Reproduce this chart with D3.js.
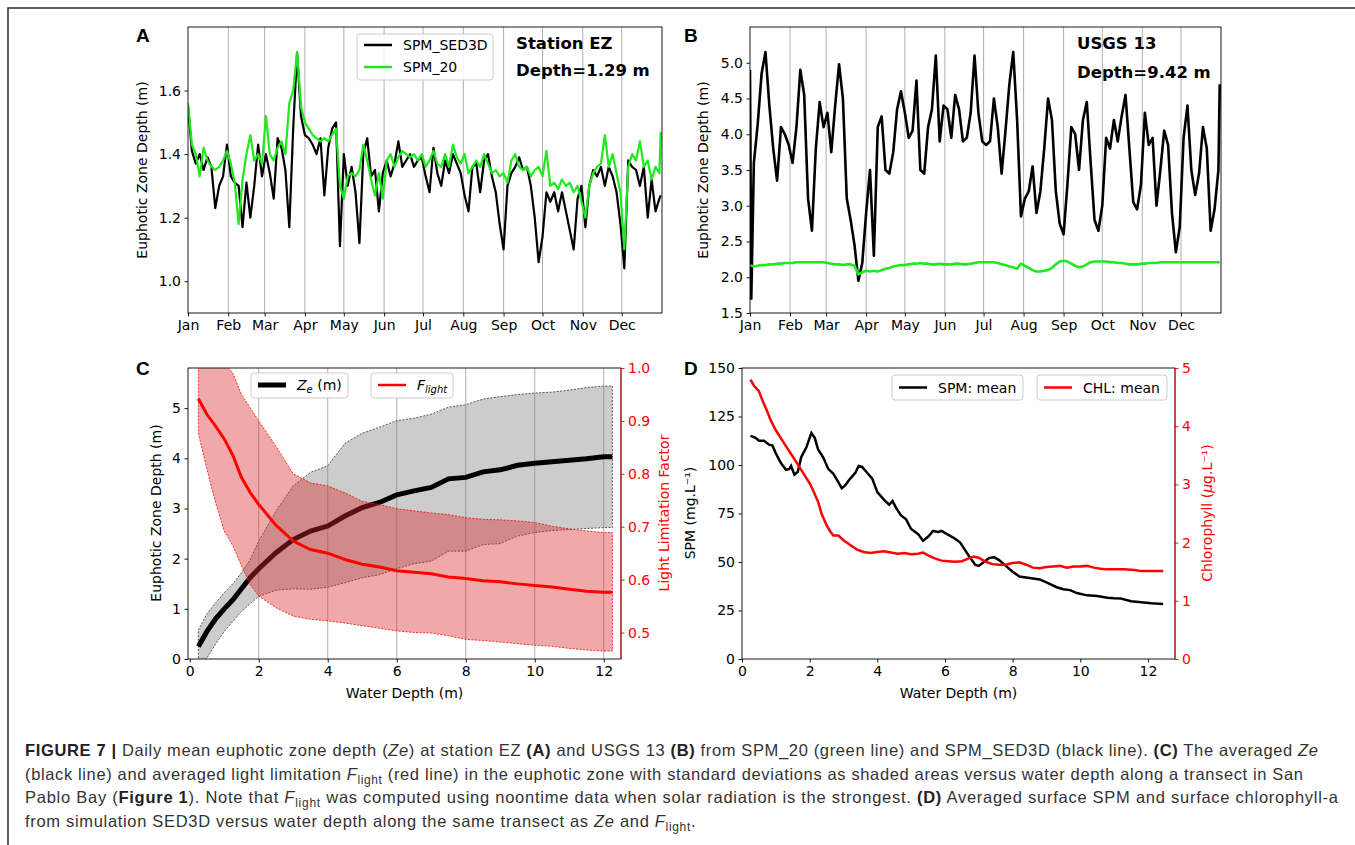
<!DOCTYPE html>
<html>
<head>
<meta charset="utf-8">
<script src="https://cdn.jsdelivr.net/npm/d3@7"></script>
<style>
  body { margin: 0; background: #fff; }
</style>
</head>
<body>
<div id="container"></div>
<script>
// month ticks used by panels A and B (day of year at the start of each month)
var months = ["Jan", "Feb", "Mar", "Apr", "May", "Jun", "Jul", "Aug", "Sep", "Oct", "Nov", "Dec"];
var monthDay = [0, 31, 59, 90, 120, 151, 181, 212, 243, 273, 304, 334];

// Panel A - station EZ, read every third day
var dayEZ = d3.range(0, 365, 3).concat([364]);
var ezSED3D = [
  1.55, 1.41, 1.37, 1.40, 1.35, 1.39, 1.36, 1.23, 1.30, 1.33, 1.43,
  1.33, 1.31, 1.30, 1.17, 1.31, 1.20, 1.30, 1.43, 1.33,
  1.40, 1.34, 1.26, 1.45, 1.42, 1.35, 1.17, 1.48, 1.72, 1.52,
  1.46, 1.45, 1.43, 1.40, 1.45, 1.27, 1.42, 1.48, 1.50, 1.11,
  1.40, 1.30, 1.36, 1.28, 1.12, 1.40, 1.45, 1.33, 1.35, 1.22, 1.34,
  1.38, 1.33, 1.37, 1.44, 1.36, 1.38, 1.40, 1.36, 1.38, 1.39,
  1.33, 1.28, 1.42, 1.34, 1.30, 1.38, 1.34, 1.40, 1.37, 1.34,
  1.27, 1.22, 1.36, 1.37, 1.28, 1.38, 1.40, 1.33, 1.28, 1.18,
  1.10, 1.30, 1.34, 1.36, 1.39, 1.35, 1.36, 1.30, 1.20, 1.06,
  1.14, 1.28, 1.25, 1.28, 1.22, 1.28, 1.22, 1.16, 1.10, 1.26, 1.30,
  1.17, 1.30, 1.35, 1.33, 1.36, 1.30, 1.36, 1.33, 1.28, 1.18,
  1.04, 1.38, 1.36, 1.35, 1.30, 1.36, 1.20, 1.32, 1.22, 1.26,
  1.27];
var ezSPM20 = [
  1.56, 1.43, 1.40, 1.33, 1.42, 1.38, 1.36, 1.35, 1.36, 1.38, 1.41,
  1.37, 1.31, 1.18, 1.32, 1.40, 1.46, 1.38, 1.40, 1.37,
  1.52, 1.40, 1.38, 1.42, 1.44, 1.40, 1.56, 1.60, 1.72, 1.55,
  1.50, 1.48, 1.46, 1.45, 1.44, 1.45, 1.44, 1.46, 1.48, 1.30,
  1.26, 1.33, 1.34, 1.33, 1.35, 1.43, 1.38, 1.32, 1.27, 1.34, 1.26,
  1.38, 1.40, 1.36, 1.39, 1.41, 1.40, 1.39, 1.40, 1.38, 1.40,
  1.36, 1.38, 1.41, 1.37, 1.36, 1.40, 1.36, 1.43, 1.39, 1.37,
  1.40, 1.34, 1.36, 1.38, 1.36, 1.40, 1.37, 1.34, 1.35, 1.33,
  1.34, 1.31, 1.38, 1.40, 1.36, 1.35, 1.36, 1.33, 1.35, 1.36,
  1.33, 1.41, 1.30, 1.31, 1.29, 1.32, 1.30, 1.31, 1.28, 1.30, 1.25,
  1.20, 1.30, 1.34, 1.36, 1.37, 1.46, 1.36, 1.40, 1.34, 1.28,
  1.10, 1.36, 1.40, 1.38, 1.44, 1.36, 1.38, 1.32, 1.36, 1.34,
  1.47];

// Panel B - USGS 13
var dayUSGS = [0, 1].concat(d3.range(3, 365, 3), [364]);
var usgsSED3D = [
  4.90, 1.70, 3.60, 4.15, 4.85, 5.15, 4.40, 3.80, 3.35, 4.10, 4.00, 3.85,
  3.60, 4.10, 4.90, 4.55, 3.10, 2.65, 3.80, 4.45, 4.10,
  4.30, 3.75, 4.40, 4.98, 4.50, 3.10, 2.80, 2.45, 1.95, 2.20,
  2.90, 3.50, 2.30, 4.10, 4.25, 3.50, 3.45, 3.75, 4.35, 4.60,
  4.30, 3.95, 4.05, 4.75, 3.50, 3.45, 4.10, 4.35, 5.10, 3.90, 4.40,
  4.35, 3.95, 4.55, 4.35, 3.90, 3.95, 4.30, 5.10, 4.30, 3.90,
  3.85, 3.90, 4.50, 4.10, 3.45, 4.05, 4.70, 5.15, 4.20, 2.85,
  3.10, 3.20, 3.55, 2.90, 3.20, 3.80, 4.50, 4.20, 3.20, 2.75,
  2.60, 3.30, 4.10, 4.00, 3.50, 4.20, 4.45, 3.60, 2.80, 2.65,
  3.00, 3.95, 3.80, 4.20, 3.90, 4.25, 4.55, 3.80, 3.05, 2.95, 3.30,
  4.30, 3.85, 3.95, 3.00, 3.50, 4.05, 3.85, 2.90, 2.35, 2.70,
  3.95, 4.40, 3.50, 3.15, 3.45, 4.10, 3.80, 2.65, 2.95, 3.50,
  4.70];
var usgsSPM20 = [
  2.17, 2.16, 2.15, 2.16, 2.17, 2.17, 2.18, 2.18, 2.19, 2.19, 2.20, 2.20,
  2.20, 2.21, 2.21, 2.21, 2.21, 2.21, 2.21, 2.21, 2.21,
  2.20, 2.19, 2.18, 2.18, 2.17, 2.18, 2.18, 2.16, 2.04, 2.07,
  2.09, 2.08, 2.09, 2.08, 2.10, 2.12, 2.13, 2.15, 2.16, 2.17,
  2.17, 2.18, 2.19, 2.19, 2.20, 2.19, 2.19, 2.18, 2.18, 2.19, 2.18,
  2.18, 2.18, 2.19, 2.19, 2.18, 2.18, 2.19, 2.20, 2.21, 2.21,
  2.21, 2.21, 2.21, 2.20, 2.18, 2.17, 2.15, 2.14, 2.12, 2.19,
  2.16, 2.13, 2.10, 2.08, 2.08, 2.09, 2.10, 2.13, 2.18, 2.22,
  2.23, 2.22, 2.19, 2.16, 2.14, 2.15, 2.18, 2.21, 2.22, 2.22,
  2.22, 2.22, 2.21, 2.21, 2.20, 2.20, 2.19, 2.18, 2.18, 2.18, 2.19,
  2.19, 2.20, 2.20, 2.20, 2.21, 2.21, 2.21, 2.21, 2.21, 2.21,
  2.21, 2.21, 2.21, 2.21, 2.21, 2.21, 2.21, 2.21, 2.21, 2.21,
  2.21];

// Panel C - transect averages with +/- one standard deviation
var depthC = [0.25, 0.5, 0.75, 1, 1.25, 1.5, 1.75, 2, 2.5, 3, 3.5, 4, 4.5, 5, 5.5, 6, 6.5, 7, 7.5, 8, 8.5, 9, 9.5, 10, 10.5, 11, 11.5, 12, 12.25];
var zeMean = [0.25, 0.55, 0.80, 1.00, 1.18, 1.40, 1.62, 1.80, 2.12, 2.38, 2.55, 2.65, 2.85, 3.02, 3.12, 3.27, 3.35, 3.42, 3.59, 3.62, 3.73, 3.77, 3.86, 3.90, 3.93, 3.96, 3.99, 4.03, 4.03];
var zeHigh = [0.58, 0.90, 1.12, 1.32, 1.50, 1.72, 1.98, 2.35, 2.95, 3.45, 3.72, 3.85, 4.30, 4.50, 4.62, 4.75, 4.80, 4.88, 5.02, 5.07, 5.18, 5.23, 5.27, 5.30, 5.32, 5.36, 5.41, 5.44, 5.44];
var zeLow = [-0.08, 0.02, 0.30, 0.55, 0.75, 0.95, 1.10, 1.25, 1.37, 1.40, 1.39, 1.43, 1.52, 1.62, 1.68, 1.80, 1.90, 1.95, 2.15, 2.15, 2.28, 2.30, 2.45, 2.52, 2.56, 2.58, 2.60, 2.62, 2.62];
var fMean = [0.942, 0.912, 0.890, 0.866, 0.835, 0.793, 0.765, 0.742, 0.703, 0.673, 0.657, 0.650, 0.638, 0.629, 0.624, 0.617, 0.614, 0.611, 0.605, 0.602, 0.598, 0.596, 0.592, 0.589, 0.586, 0.582, 0.578, 0.576, 0.576];
var fHigh = [1.05, 1.05, 1.03, 1.01, 0.99, 0.950, 0.925, 0.900, 0.852, 0.800, 0.783, 0.777, 0.764, 0.748, 0.742, 0.734, 0.730, 0.726, 0.723, 0.717, 0.714, 0.713, 0.711, 0.708, 0.701, 0.696, 0.692, 0.689, 0.689];
var fLow = [0.877, 0.808, 0.745, 0.692, 0.664, 0.626, 0.591, 0.569, 0.547, 0.531, 0.525, 0.522, 0.518, 0.513, 0.508, 0.503, 0.500, 0.499, 0.494, 0.487, 0.485, 0.482, 0.479, 0.476, 0.474, 0.470, 0.467, 0.465, 0.465];

// Panel D - surface SPM and chlorophyll along the transect
var depthSPM = [0.25, 0.4, 0.5, 0.65, 0.8, 0.9, 1.0, 1.15, 1.3, 1.4, 1.45, 1.55, 1.65, 1.75, 1.9, 2.05, 2.15, 2.25, 2.4, 2.55, 2.7, 2.85, 2.95, 3.05, 3.2, 3.35, 3.45, 3.55, 3.7, 3.85, 4.0, 4.2, 4.35, 4.45, 4.55, 4.7, 4.85, 5.0, 5.2, 5.35, 5.5, 5.65, 5.8, 5.9, 6.1, 6.3, 6.45, 6.6, 6.75, 6.9, 7.0, 7.15, 7.3, 7.45, 7.6, 7.8, 8.0, 8.2, 8.5, 8.8, 9.0, 9.3, 9.5, 9.7, 9.9, 10.2, 10.5, 10.8, 11.0, 11.2, 11.5, 11.8, 12.1, 12.45];
var spmMean = [115, 114, 112.5, 112.5, 110.5, 110, 106, 101, 97.5, 98, 99.5, 95, 96.5, 104, 109, 116.5, 114, 108, 104, 98, 95.5, 91, 88, 89.5, 93, 96, 99.5, 99, 96, 93, 86, 82, 79.5, 81.5, 78, 74, 72, 67, 64.5, 61, 63, 66, 65.5, 66, 64, 62, 60, 56, 52, 48.5, 48, 50, 52, 52.5, 51, 48, 45, 42.5, 41.8, 41, 39.5, 37, 36, 35.5, 34, 32.8, 32.5, 31.6, 31.3, 31.2, 29.8, 29.2, 28.7, 28.4];
var depthCHL = [0.25, 0.35, 0.5, 0.6, 0.75, 0.85, 1.0, 1.25, 1.5, 1.75, 2.0, 2.1, 2.25, 2.35, 2.5, 2.6, 2.7, 2.85, 3.0, 3.2, 3.4, 3.6, 3.8, 4.0, 4.2, 4.4, 4.6, 4.8, 5.0, 5.2, 5.35, 5.5, 5.7, 5.9, 6.1, 6.3, 6.5, 6.7, 6.85, 7.0, 7.2, 7.4, 7.6, 7.8, 8.0, 8.2, 8.4, 8.6, 8.8, 9.0, 9.2, 9.4, 9.6, 9.8, 10.0, 10.2, 10.4, 10.6, 10.8, 11.0, 11.3, 11.6, 11.8, 12.1, 12.45];
var chlMean = [4.80, 4.70, 4.60, 4.45, 4.25, 4.10, 3.93, 3.70, 3.48, 3.25, 3.02, 2.90, 2.70, 2.50, 2.30, 2.20, 2.12, 2.12, 2.04, 1.96, 1.88, 1.84, 1.82, 1.84, 1.85, 1.83, 1.81, 1.82, 1.80, 1.81, 1.83, 1.78, 1.73, 1.69, 1.68, 1.67, 1.68, 1.73, 1.76, 1.74, 1.67, 1.63, 1.62, 1.62, 1.65, 1.66, 1.62, 1.57, 1.56, 1.58, 1.59, 1.60, 1.57, 1.59, 1.59, 1.60, 1.57, 1.55, 1.54, 1.54, 1.54, 1.53, 1.51, 1.51, 1.51];

// caption, one array entry per printed line: [text, style]
var captionLines = [
  [["FIGURE 7 | ", "b"], ["Daily mean euphotic zone depth (", ""], ["Ze", "i"], [") at station EZ ", ""], ["(A)", "b"], [" and USGS 13 ", ""], ["(B)", "b"], [" from SPM_20 (green line) and SPM_SED3D (black line). ", ""], ["(C)", "b"], [" The averaged ", ""], ["Ze", "i"]],
  [["(black line) and averaged light limitation ", ""], ["F", "i"], ["light", "sub"], [" (red line) in the euphotic zone with standard deviations as shaded areas versus water depth along a transect in San", ""]],
  [["Pablo Bay (", ""], ["Figure 1", "b"], ["). Note that ", ""], ["F", "i"], ["light", "sub"], [" was computed using noontime data when solar radiation is the strongest. ", ""], ["(D)", "b"], [" Averaged surface SPM and surface chlorophyll-a", ""]],
  [["from simulation SED3D versus water depth along the same transect as ", ""], ["Ze", "i"], [" and ", ""], ["F", "i"], ["light", "sub"], [".", ""]]
];
var captionWidth = [1293, 1278, 1313];

///////////////////////////////////////////////////////////////////////////
var FONT = "DejaVu Sans";
var svg = d3.select("#container").append("svg")
  .attr("width", 1355)
  .attr("height", 845);

svg.append("rect")
  .attr("x", 8).attr("y", 8)
  .attr("width", 1420).attr("height", 900)
  .attr("fill", "none")
  .attr("stroke", "#3a3a3a")
  .attr("stroke-width", 1.6);

function panelBox(x0, y0, x1, y1, id) {
  svg.append("clipPath").attr("id", id).append("rect")
    .attr("x", x0).attr("y", y0)
    .attr("width", x1 - x0).attr("height", y1 - y0);
  return { x0: x0, y0: y0, x1: x1, y1: y1, clip: "url(#" + id + ")" };
}

function styleAxis(g, color) {
  g.select(".domain").remove();
  g.selectAll(".tick line").attr("stroke", color).attr("stroke-width", 0.9);
  g.selectAll(".tick text")
    .attr("fill", color)
    .attr("font-size", 14)
    .attr("font-family", FONT);
}

function spines(b, rightColor) {
  svg.append("rect")
    .attr("x", b.x0).attr("y", b.y0)
    .attr("width", b.x1 - b.x0).attr("height", b.y1 - b.y0)
    .attr("fill", "none").attr("stroke", "#000").attr("stroke-width", 0.9);
  if (rightColor) {
    svg.append("line")
      .attr("x1", b.x1).attr("x2", b.x1).attr("y1", b.y0).attr("y2", b.y1)
      .attr("stroke", rightColor).attr("stroke-width", 0.9);
  }
}

function vLabel(x, y, color) {
  return svg.append("text")
    .attr("transform", "translate(" + x + "," + y + ") rotate(-90)")
    .attr("text-anchor", "middle")
    .attr("dy", "0.35em")
    .attr("font-family", FONT)
    .attr("font-size", 14)
    .attr("fill", color);
}

function panelLetter(x, y, s) {
  svg.append("text").attr("x", x).attr("y", y)
    .attr("font-family", "Liberation Sans")
    .attr("font-weight", "bold")
    .attr("font-size", 19)
    .text(s);
}

function legendBox(x, y, w, h) {
  svg.append("rect")
    .attr("x", x).attr("y", y).attr("width", w).attr("height", h)
    .attr("rx", 3)
    .attr("fill", "#fff").attr("fill-opacity", 0.85)
    .attr("stroke", "#cccccc").attr("stroke-width", 1);
}

function legendEntry(x, y, color, width) {
  svg.append("line")
    .attr("x1", x).attr("x2", x + 28).attr("y1", y).attr("y2", y)
    .attr("stroke", color).attr("stroke-width", width);
  return svg.append("text")
    .attr("x", x + 39).attr("y", y + 5)
    .attr("font-family", FONT).attr("font-size", 14).attr("fill", "#000");
}

///////////////////////////////////////////////////////////////////////////
//////////////////////// A and B: daily time series ///////////////////////
///////////////////////////////////////////////////////////////////////////

function timePanel(b, yDomain, yTicks, days, sed3d, spm20, widths) {
  var x = d3.scaleLinear().domain([0, 365]).range([b.x0, b.x1]);
  var y = d3.scaleLinear().domain(yDomain).range([b.y1, b.y0]);

  svg.append("g").selectAll("line")
    .data(monthDay.slice(1))
    .join("line")
    .attr("x1", function (d) { return x(d); })
    .attr("x2", function (d) { return x(d); })
    .attr("y1", b.y0).attr("y2", b.y1)
    .attr("stroke", "#b0b0b0").attr("stroke-width", 1);

  var line = d3.line()
    .x(function (d, i) { return x(days[i]); })
    .y(function (d) { return y(d); });

  svg.append("path").datum(sed3d)
    .attr("d", line).attr("fill", "none")
    .attr("stroke", "#000").attr("stroke-width", widths[0])
    .attr("stroke-linejoin", "round")
    .attr("clip-path", b.clip);
  svg.append("path").datum(spm20)
    .attr("d", line).attr("fill", "none")
    .attr("stroke", "#1ee81e").attr("stroke-width", widths[1])
    .attr("stroke-linejoin", "round")
    .attr("clip-path", b.clip);

  svg.append("g").attr("transform", "translate(0," + b.y1 + ")")
    .call(d3.axisBottom(x).tickValues(monthDay)
      .tickFormat(function (d, i) { return months[i]; })
      .tickSize(3.5).tickPadding(3.5))
    .call(styleAxis, "#000");
  svg.append("g").attr("transform", "translate(" + b.x0 + ",0)")
    .call(d3.axisLeft(y).tickValues(yTicks).tickFormat(d3.format(".1f"))
      .tickSize(3.5).tickPadding(3.5))
    .call(styleAxis, "#000");
  spines(b);
}

function stationText(x, y1, y2, name, depth) {
  [[name, y1], [depth, y2]].forEach(function (t) {
    svg.append("text").attr("x", x).attr("y", t[1])
      .attr("font-family", FONT).attr("font-weight", "bold")
      .attr("font-size", 16.5).text(t[0]);
  });
}

var bA = panelBox(188, 27, 662, 313, "clipA");
timePanel(bA, [0.9, 1.8], [1.0, 1.2, 1.4, 1.6], dayEZ, ezSED3D, ezSPM20, [2.2, 2.2]);
vLabel(142, 170, "#000").text("Euphotic Zone Depth (m)");
panelLetter(136, 42, "A");
legendBox(357, 34, 136, 46);
legendEntry(364, 45, "#000", 2.5).text("SPM_SED3D");
legendEntry(364, 67, "#1ee81e", 2.5).text("SPM_20");
stationText(516, 49, 76, "Station EZ", "Depth=1.29 m");

var bB = panelBox(750, 27, 1221, 313, "clipB");
timePanel(bB, [1.5, 5.5], [1.5, 2.0, 2.5, 3.0, 3.5, 4.0, 4.5, 5.0], dayUSGS, usgsSED3D, usgsSPM20, [2.6, 2.6]);
vLabel(703, 170, "#000").text("Euphotic Zone Depth (m)");
panelLetter(684, 42, "B");
stationText(1077, 49, 78, "USGS 13", "Depth=9.42 m");

///////////////////////////////////////////////////////////////////////////
////////////////////// C: Ze and F_light vs water depth ///////////////////
///////////////////////////////////////////////////////////////////////////

var bC = panelBox(188, 368, 621, 659, "clipC");
var xC = d3.scaleLinear().domain([-0.05, 12.5]).range([bC.x0, bC.x1]);
var yC = d3.scaleLinear().domain([0, 5.8]).range([bC.y1, bC.y0]);
var yC2 = d3.scaleLinear().domain([0.45, 1.0]).range([bC.y1, bC.y0]);

svg.append("g").selectAll("line")
  .data([2, 4, 6, 8, 10, 12])
  .join("line")
  .attr("x1", function (d) { return xC(d); })
  .attr("x2", function (d) { return xC(d); })
  .attr("y1", bC.y0).attr("y2", bC.y1)
  .attr("stroke", "#b0b0b0").attr("stroke-width", 1);

var zeBand = d3.area()
  .x(function (d, i) { return xC(depthC[i]); })
  .y0(function (d, i) { return yC(zeLow[i]); })
  .y1(function (d) { return yC(d); });
svg.append("path").datum(zeHigh)
  .attr("d", zeBand)
  .attr("fill", "#808080").attr("fill-opacity", 0.4)
  .attr("stroke", "#333").attr("stroke-width", 0.8).attr("stroke-dasharray", "2,1.5")
  .attr("clip-path", bC.clip);
svg.append("path").datum(zeMean)
  .attr("d", d3.line()
    .x(function (d, i) { return xC(depthC[i]); })
    .y(function (d) { return yC(d); }))
  .attr("fill", "none").attr("stroke", "#000").attr("stroke-width", 5)
  .attr("clip-path", bC.clip);

var fBand = d3.area()
  .x(function (d, i) { return xC(depthC[i]); })
  .y0(function (d, i) { return yC2(fLow[i]); })
  .y1(function (d) { return yC2(d); });
svg.append("path").datum(fHigh)
  .attr("d", fBand)
  .attr("fill", "#d62728").attr("fill-opacity", 0.4)
  .attr("stroke", "#ff0000").attr("stroke-width", 0.8).attr("stroke-dasharray", "2,1.5")
  .attr("clip-path", bC.clip);
svg.append("path").datum(fMean)
  .attr("d", d3.line()
    .x(function (d, i) { return xC(depthC[i]); })
    .y(function (d) { return yC2(d); }))
  .attr("fill", "none").attr("stroke", "#ff0000").attr("stroke-width", 3)
  .attr("clip-path", bC.clip);

svg.append("g").attr("transform", "translate(0," + bC.y1 + ")")
  .call(d3.axisBottom(xC).tickValues([0, 2, 4, 6, 8, 10, 12])
    .tickFormat(d3.format("d")).tickSize(3.5).tickPadding(3.5))
  .call(styleAxis, "#000");
svg.append("g").attr("transform", "translate(" + bC.x0 + ",0)")
  .call(d3.axisLeft(yC).tickValues([0, 1, 2, 3, 4, 5])
    .tickFormat(d3.format("d")).tickSize(3.5).tickPadding(3.5))
  .call(styleAxis, "#000");
svg.append("g").attr("transform", "translate(" + bC.x1 + ",0)")
  .call(d3.axisRight(yC2).tickValues([0.5, 0.6, 0.7, 0.8, 0.9, 1.0])
    .tickFormat(d3.format(".1f")).tickSize(3.5).tickPadding(3.5))
  .call(styleAxis, "#ff0000");
spines(bC, "#ff0000");

svg.append("text").attr("x", (bC.x0 + bC.x1) / 2).attr("y", 698)
  .attr("text-anchor", "middle").attr("font-family", FONT).attr("font-size", 14)
  .text("Water Depth (m)");
vLabel(156, 513, "#000").text("Euphotic Zone Depth (m)");
vLabel(664, 513, "#ff0000").text("Light Limitation Factor");
panelLetter(136, 375, "C");

legendBox(251, 373, 97, 25);
var tz = legendEntry(258, 385, "#000", 5);
tz.append("tspan").attr("font-style", "italic").text("Z");
tz.append("tspan").attr("font-style", "italic").attr("font-size", 10).attr("dy", 3).text("e");
tz.append("tspan").attr("dy", -3).text(" (m)");
legendBox(371, 373, 82, 25);
var tf = legendEntry(378, 385, "#ff0000", 2.5);
tf.append("tspan").attr("font-style", "italic").text("F");
tf.append("tspan").attr("font-style", "italic").attr("font-size", 10).attr("dy", 3).text("light");

///////////////////////////////////////////////////////////////////////////
/////////////////////// D: SPM and chlorophyll ////////////////////////////
///////////////////////////////////////////////////////////////////////////

var bD = panelBox(742, 368, 1175, 659, "clipD");
var xD = d3.scaleLinear().domain([0, 12.8]).range([bD.x0, bD.x1]);
var yD = d3.scaleLinear().domain([0, 150]).range([bD.y1, bD.y0]);
var yD2 = d3.scaleLinear().domain([0, 5]).range([bD.y1, bD.y0]);

svg.append("path").datum(spmMean)
  .attr("d", d3.line()
    .x(function (d, i) { return xD(depthSPM[i]); })
    .y(function (d) { return yD(d); }))
  .attr("fill", "none").attr("stroke", "#000").attr("stroke-width", 2.5)
  .attr("clip-path", bD.clip);
svg.append("path").datum(chlMean)
  .attr("d", d3.line()
    .x(function (d, i) { return xD(depthCHL[i]); })
    .y(function (d) { return yD2(d); }))
  .attr("fill", "none").attr("stroke", "#ff0000").attr("stroke-width", 2.5)
  .attr("clip-path", bD.clip);

svg.append("g").attr("transform", "translate(0," + bD.y1 + ")")
  .call(d3.axisBottom(xD).tickValues([0, 2, 4, 6, 8, 10, 12])
    .tickFormat(d3.format("d")).tickSize(3.5).tickPadding(3.5))
  .call(styleAxis, "#000");
svg.append("g").attr("transform", "translate(" + bD.x0 + ",0)")
  .call(d3.axisLeft(yD).tickValues([0, 25, 50, 75, 100, 125, 150])
    .tickFormat(d3.format("d")).tickSize(3.5).tickPadding(3.5))
  .call(styleAxis, "#000");
svg.append("g").attr("transform", "translate(" + bD.x1 + ",0)")
  .call(d3.axisRight(yD2).tickValues([0, 1, 2, 3, 4, 5])
    .tickFormat(d3.format("d")).tickSize(3.5).tickPadding(3.5))
  .call(styleAxis, "#ff0000");
spines(bD, "#ff0000");

svg.append("text").attr("x", (bD.x0 + bD.x1) / 2).attr("y", 698)
  .attr("text-anchor", "middle").attr("font-family", FONT).attr("font-size", 14)
  .text("Water Depth (m)");
vLabel(690, 513, "#000").text("SPM (mg.L\u207B\u00B9)");
var chlLab = vLabel(1207, 513, "#ff0000");
chlLab.append("tspan").text("Chlorophyll (");
chlLab.append("tspan").attr("font-style", "italic").text("\u03BC");
chlLab.append("tspan").text("g.L\u207B\u00B9)");
panelLetter(684, 375, "D");

legendBox(892, 375, 131, 25);
legendEntry(899, 387.5, "#000", 2.5).text("SPM: mean");
legendBox(1037, 375, 130, 25);
legendEntry(1044, 387.5, "#ff0000", 2.5).text("CHL: mean");

///////////////////////////////////////////////////////////////////////////
//////////////////////////////// caption //////////////////////////////////
///////////////////////////////////////////////////////////////////////////

var capNodes = [];
captionLines.forEach(function (segs, li) {
  var t = svg.append("text")
    .attr("x", 25).attr("y", 756 + li * 23.7)
    .attr("font-family", "Liberation Sans")
    .attr("font-size", 16.5)
    .attr("fill", "#333");
  var shift = 0;
  segs.forEach(function (s) {
    var ts = t.append("tspan").text(s[0]);
    if (s[1] === "b") ts.attr("font-weight", "bold").attr("fill", "#222");
    if (s[1] === "i") ts.attr("font-style", "italic");
    if (s[1] === "sub") { ts.attr("font-size", 12).attr("dy", 4); shift = 4; }
    else if (shift) { ts.attr("dy", -shift); shift = 0; }
  });
  capNodes.push(t);
});
var stretch = [];
capNodes.forEach(function (t, i) {
  if (i < captionWidth.length) {
    stretch.push(captionWidth[i] / t.node().getComputedTextLength());
    t.attr("textLength", captionWidth[i]).attr("lengthAdjust", "spacing");
  } else {
    var r = d3.mean(stretch);
    t.attr("textLength", t.node().getComputedTextLength() * r).attr("lengthAdjust", "spacing");
  }
});
</script>
</body>
</html>
